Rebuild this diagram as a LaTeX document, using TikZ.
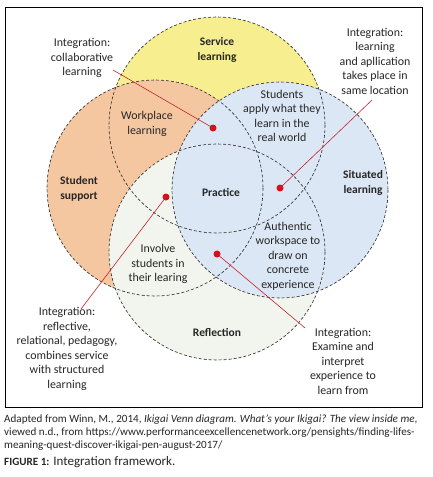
\documentclass[tikz,border=0pt]{standalone}
\usepackage{fontspec}
\setmainfont{Carlito}
\definecolor{sfill}{HTML}{F7EF8F}
\definecolor{ofill}{HTML}{F5C7A1}
\definecolor{bfill}{HTML}{DCE7F5}
\definecolor{rfill}{HTML}{F2F5EE}
\definecolor{dotred}{HTML}{D90F1E}
\definecolor{linered}{HTML}{C8202E}
\definecolor{txt}{HTML}{262626}
\begin{document}
\begin{tikzpicture}[x=1pt,y=-1pt,
  lbl/.style={font=\fontsize{11.9}{14.5}\selectfont, align=center, text=txt, inner sep=1pt},
  bold/.style={font=\fontsize{11.5}{14.5}\selectfont\bfseries, align=center, text=txt, inner sep=1pt},
  circ/.style={draw=black!85, dash pattern=on 3pt off 2pt, line width=0.6pt},
  dot/.style={circle, fill=dotred, inner sep=0pt, minimum size=7pt},
  lead/.style={draw=linered, line width=0.6pt},
  captext/.style={font=\fontsize{11.1}{13}\selectfont, text=txt, anchor=west, inner sep=0pt}]
\useasboundingbox (0,0) rectangle (432,477);
\fill[white] (0,0) rectangle (432,477);
% fills
\fill[sfill] (217,125) circle (108);
\fill[ofill] (155,188) circle (108);
\fill[rfill] (217,252) circle (108);
\fill[bfill] (280,190) circle (108);
% outlines
\draw[circ] (217,125) circle (108);
\draw[circ] (155,188) circle (108);
\draw[circ] (217,252) circle (108);
\draw[circ] (280,190) circle (108);
% frame
\draw[black, line width=0.9pt] (5,7) rectangle (422,407);
% region labels
\node[bold] (service) at (217,50) {Service\\learning};
\node[bold] (support) at (79,189) {Student\\support};
\node[bold] (practice) at (221,192) {Practice};
\node[bold] (situated) at (363,183) {Situated\\learning};
\node[bold] (reflection) at (217,332) {Reflection};
\node[lbl] (workplace) at (147,124) {Workplace\\learning};
\node[lbl] (apply) at (282,116) {Students\\apply what they\\learn in the\\real world};
\node[lbl] (authentic) at (288,256) {Authentic\\workspace to\\draw on\\concrete\\experience};
\node[lbl] (involve) at (158,264) {Involve\\students in\\their learing};
% integration labels
\node[lbl] (i1) at (82,58) {Integration:\\collaborative\\learning};
\node[lbl] (i2) at (375,61) {Integration:\\learning\\and apllication\\takes place in\\same location};
\node[lbl] (i3) at (67,349) {Integration:\\reflective,\\relational, pedagogy,\\combines service\\with structured\\learning};
\node[lbl] (i4) at (343,361) {Integration:\\Examine and\\interpret\\experience to\\learn from};
% dots and leaders
\node[dot] (d1) at (213,128) {};
\node[dot] (d2) at (280,188) {};
\node[dot] (d3) at (166,197) {};
\node[dot] (d4) at (217,254) {};
\coordinate (e1) at (113,70);
\coordinate (e2) at (372,100);
\coordinate (e3) at (81,309);
\coordinate (e4) at (305,328);
\draw[lead] (d1.center) -- (e1);
\draw[lead] (d2.center) -- (e2);
\draw[lead] (d3.center) -- (e3);
\draw[lead] (d4.center) -- (e4);
% caption
\node[captext] (c1) at (4,420) {Adapted from Winn, M., 2014, \textit{Ikigai Venn diagram. What’s your Ikigai? The view inside me},};
\node[captext] (c2) at (4,433) {viewed n.d., from https://www.performanceexcellencenetwork.org/pensights/finding-lifes-};
\node[captext] (c3) at (4,446) {meaning-quest-discover-ikigai-pen-august-2017/};
\node[captext, font=\fontsize{13}{15}\selectfont] (c4) at (4,462) {{\fontsize{11.1}{13}\selectfont\bfseries FIGURE 1:} Integration framework.};
\end{tikzpicture}
\end{document}
